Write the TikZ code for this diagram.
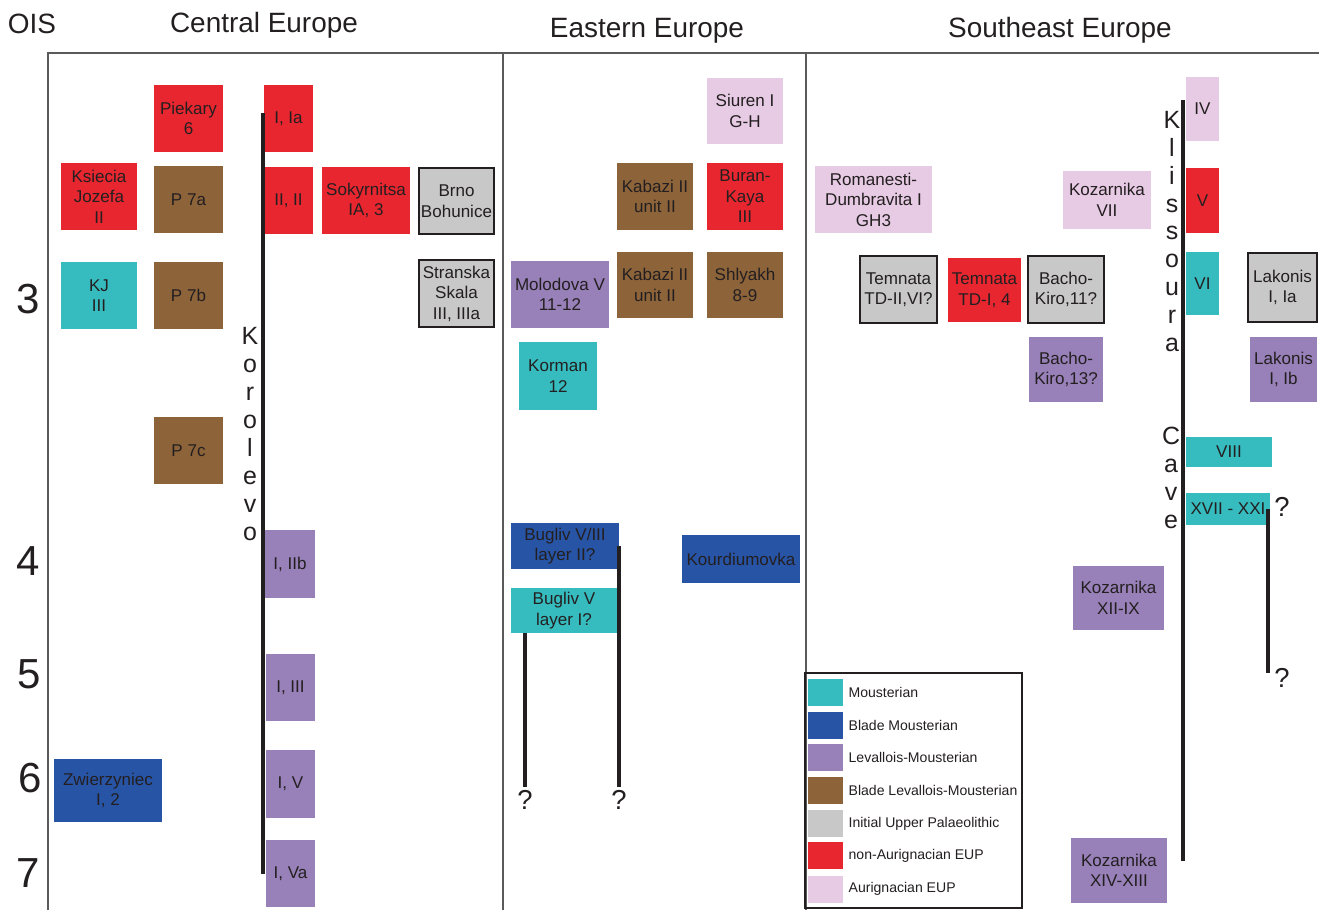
\documentclass[tikz,border=0pt]{standalone}
\usepackage{fontspec}
\setmainfont{Liberation Sans}
\usetikzlibrary{positioning}

\definecolor{colMous}{RGB}{54,188,190}
\definecolor{colBlade}{RGB}{40,84,166}
\definecolor{colLev}{RGB}{152,128,184}
\definecolor{colBladeLev}{RGB}{141,99,58}
\definecolor{colIUP}{RGB}{200,200,200}
\definecolor{colNonAur}{RGB}{232,38,48}
\definecolor{colAur}{RGB}{231,202,228}
\definecolor{ink}{RGB}{35,31,32}
\definecolor{rule}{RGB}{90,90,90}

\tikzset{
  site/.style={rectangle,inner sep=0pt,align=center,text=ink,
    font=\fontsize{9.7}{11.7}\selectfont},
  wh/.style 2 args={minimum width=#1*0.02cm,minimum height=#2*0.02cm},
  mous/.style={fill=colMous},
  blade/.style={fill=colBlade},
  lev/.style={fill=colLev},
  bladelev/.style={fill=colBladeLev},
  iup/.style={fill=colIUP,draw=ink,line width=0.9pt},
  nonaur/.style={fill=colNonAur},
  aur/.style={fill=colAur},
  vword/.style={align=center,inner sep=0pt,text=ink,
    font=\fontsize{14.2}{15.9}\selectfont},
  qmark/.style={inner sep=2pt,text=ink,font=\fontsize{15.6}{18}\selectfont},
  keytext/.style={inner sep=0pt,text=ink,font=\fontsize{8}{9.6}\selectfont},
  timeline/.style={line width=2.3pt,color=ink},
  frame/.style={line width=0.85pt,color=rule}
}

\begin{document}
\begin{tikzpicture}[x=0.02cm,y=-0.02cm]
  \useasboundingbox (0,0) rectangle (1319,910);

  % frame
  \draw[frame] (48,910) -- (48,53) -- (1319,53);
  \draw[frame] (503,53) -- (503,910);
  \draw[frame] (806,53) -- (806,910);

  \begin{scope}[every node/.style={anchor=base,text=ink,font=\fontsize{15.9}{18}\selectfont}]
    \node (ois)       at (32,33)   {OIS};
    \node (central)   at (264,32)  {Central Europe};
    \node (eastern)   at (647,37)  {Eastern Europe};
    \node (southeast) at (1060,37) {Southeast Europe};
  \end{scope}

  \begin{scope}[every node/.style={anchor=base,text=ink,font=\fontsize{23.9}{26}\selectfont}]
    \node (ois3) at (28,313) {3};
    \node (ois4) at (28,575) {4};
    \node (ois5) at (29,688) {5};
    \node (ois6) at (30,792) {6};
    \node (ois7) at (28,887) {7};
  \end{scope}

  % Central Europe
  \begin{scope}[every node/.style={site}]
    \node[nonaur,wh={69}{67}]   (piekary)    at (188.5,118.5) {Piekary\\6};
    \node[nonaur,wh={49}{67}]   (koroIa)     at (288.5,118.5) {I, Ia};
    \node[nonaur,wh={76}{67}]   (ksiecia)    at (99,196.5)    {Ksiecia\\Jozefa\\II};
    \node[bladelev,wh={69}{67}] (p7a)        at (188.5,199.5) {P 7a};
    \node[nonaur,wh={49}{67}]   (koroII)     at (288.5,200.5) {II, II};
    \node[nonaur,wh={88}{67}]   (sokyrnitsa) at (366,200.5)   {Sokyrnitsa\\IA, 3};
    \node[iup,wh={75}{66}]      (brno)       at (456.5,201)   {Brno\\Bohunice};
    \node[mous,wh={76}{67}]     (kj)         at (99,295.5)    {KJ\\III};
    \node[bladelev,wh={69}{67}] (p7b)        at (188.5,295.5) {P 7b};
    \node[iup,wh={75}{67}]      (stranska)   at (456.5,293.5) {Stranska\\Skala\\III, IIIa};
    \node[bladelev,wh={69}{67}] (p7c)        at (188.5,450.5) {P 7c};
    \node[lev,wh={50}{68}]      (koroIIb)    at (290,564)     {I, IIb};
    \node[lev,wh={49}{67}]      (koroIII)    at (290.5,687.5) {I, III};
    \node[lev,wh={49}{68}]      (koroV)      at (290.5,784)   {I, V};
    \node[lev,wh={49}{67}]      (koroVa)     at (290.5,873.5) {I, Va};
    \node[blade,wh={108}{63}]   (zwierz)     at (108,790.5)   {Zwierzyniec\\I, 2};
  \end{scope}
  \node[vword] (korolevo) at (250,434) {K\\o\\r\\o\\l\\e\\v\\o};

  % Eastern Europe
  \begin{scope}[every node/.style={site}]
    \node[aur,wh={76}{66}]      (siuren)   at (745,111)   {Siuren I\\G-H};
    \node[bladelev,wh={76}{67}] (kabaziA)  at (655,196.5) {Kabazi II\\unit II};
    \node[nonaur,wh={76}{67}]   (buran)    at (745,196.5) {Buran-\\Kaya\\III};
    \node[lev,wh={98}{67}]      (molodova) at (560,294.5) {Molodova V\\11-12};
    \node[bladelev,wh={76}{66}] (kabaziB)  at (655,285)   {Kabazi II\\unit II};
    \node[bladelev,wh={76}{66}] (shlyakh)  at (745,285)   {Shlyakh\\8-9};
    \node[mous,wh={78}{68}]     (korman)   at (558,376)   {Korman\\12};
    \node[blade,wh={108}{46}]   (buglivII) at (565,546)   {Bugliv V/III\\layer II?};
    \node[blade,wh={118}{48}]   (kourdium) at (741,559)   {Kourdiumovka};
    \node[mous,wh={106}{45}]    (buglivI)  at (564,610.5) {Bugliv V\\layer I?};
  \end{scope}

  % Southeast Europe
  \begin{scope}[every node/.style={site}]
    \node[aur,wh={33}{64}]      (klisIV)    at (1202.5,109)  {IV};
    \node[aur,wh={117}{67}]     (romanesti) at (873.5,199.5) {Romanesti-\\Dumbravita I\\GH3};
    \node[aur,wh={88}{58}]      (kozVII)    at (1107,200)    {Kozarnika\\VII};
    \node[nonaur,wh={33}{65}]   (klisV)     at (1202.5,200.5){V};
    \node[iup,wh={77}{67}]      (temnataII) at (898.5,289.5) {Temnata\\TD-II,VI?};
    \node[nonaur,wh={73}{64}]   (temnataI)  at (984.5,290)   {Temnata\\TD-I, 4};
    \node[iup,wh={76}{67}]      (bachoXI)   at (1066,289.5)  {Bacho-\\Kiro,11?};
    \node[mous,wh={33}{63}]     (klisVI)    at (1202.5,283.5){VI};
    \node[iup,wh={69}{69}]      (lakonisA)  at (1282.5,287.5){Lakonis\\I, Ia};
    \node[lev,wh={74}{65}]      (bachoXIII) at (1066,369.5)  {Bacho-\\Kiro,13?};
    \node[lev,wh={67}{65}]      (lakonisB)  at (1283.5,369.5){Lakonis\\I, Ib};
    \node[mous,wh={86}{30}]     (klisVIII)  at (1229,452)    {VIII};
    \node[mous,wh={84}{32}]     (klisXVII)  at (1228,509)    {XVII - XXI};
    \node[lev,wh={91}{64}]      (kozXII)    at (1118.5,598)  {Kozarnika\\XII-IX};
    \node[lev,wh={96}{65}]      (kozXIV)    at (1119,870.5)  {Kozarnika\\XIV-XIII};
  \end{scope}
  \node[vword] (klissoura) at (1172,231.5) {K\\l\\i\\s\\s\\o\\u\\r\\a};
  \node[vword] (cave)      at (1171,477.5) {C\\a\\v\\e};

  \node[qmark] (qbugI)  at (525,800)  {?};
  \node[qmark] (qbugII) at (619,800)  {?};
  \node[qmark] (qklisA) at (1282,507) {?};
  \node[qmark] (qklisB) at (1282,678) {?};

  % sequences
  \coordinate (korotop) at (263,113);
  \coordinate (korobot) at (263,874);
  \coordinate (klistop) at (1183,100);
  \coordinate (klisbot) at (1183,861);
  \coordinate (klisend) at (1268,673);
  \draw[timeline] (korotop) -- (korobot);
  \draw[timeline] (klistop) -- (klisbot);
  \draw[timeline] (buglivI.south -| qbugI) -- (qbugI.north);
  \draw[timeline] (buglivII.east) -- (buglivII.east |- qbugII.north);
  \draw[timeline] (klisXVII.east -| klisend) -- (klisend);

  % key
  \draw[line width=1.1pt,color=ink] (805,673) rectangle (1022,908);
  \begin{scope}[every node/.style={inner sep=0pt,wh={35}{27}}]
    \node[mous]     (keymous)     at (825.5,692.5) {};
    \node[blade]    (keyblade)    at (825.5,725)   {};
    \node[lev]      (keylev)      at (825.5,757)   {};
    \node[bladelev] (keybladelev) at (825.5,790.5) {};
    \node[fill=colIUP] (keyiup)   at (825.5,823.5) {};
    \node[nonaur]   (keynonaur)   at (825.5,855.5) {};
    \node[aur]      (keyaur)      at (825.5,889)   {};
  \end{scope}
  \node[keytext,right=2.8pt of keymous]     (txtmous)     {Mousterian};
  \node[keytext,right=2.8pt of keyblade]    (txtblade)    {Blade Mousterian};
  \node[keytext,right=2.8pt of keylev]      (txtlev)      {Levallois-Mousterian};
  \node[keytext,right=2.8pt of keybladelev] (txtbladelev) {Blade Levallois-Mousterian};
  \node[keytext,right=2.8pt of keyiup]      (txtiup)      {Initial Upper Palaeolithic};
  \node[keytext,right=2.8pt of keynonaur]   (txtnonaur)   {non-Aurignacian EUP};
  \node[keytext,right=2.8pt of keyaur]      (txtaur)      {Aurignacian EUP};

\end{tikzpicture}
\end{document}
